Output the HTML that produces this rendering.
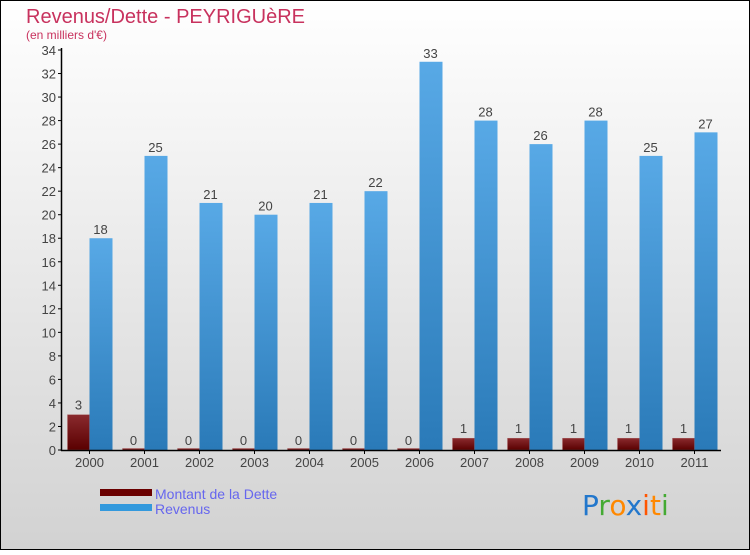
<!DOCTYPE html>
<html><head><meta charset="utf-8"><style>
html,body{margin:0;padding:0}
body{width:750px;height:550px;overflow:hidden;font-family:"Liberation Sans",sans-serif}
</style></head><body>
<svg width="750" height="550" xmlns="http://www.w3.org/2000/svg">
<defs>
<linearGradient id="bg" x1="0" y1="0" x2="0" y2="1"><stop offset="0" stop-color="#ffffff"/><stop offset="1" stop-color="#d2d2d2"/></linearGradient>
<linearGradient id="gr" x1="0" y1="0" x2="0" y2="1"><stop offset="0" stop-color="#58a9e6"/><stop offset="1" stop-color="#2a7ab8"/></linearGradient>
<linearGradient id="gd" x1="0" y1="0" x2="0" y2="1"><stop offset="0" stop-color="#8a2a2e"/><stop offset="1" stop-color="#5a0000"/></linearGradient>
</defs>
<rect x="0.5" y="0.5" width="749" height="549" fill="url(#bg)" stroke="#000"/>
<text x="26" y="23" font-size="20" fill="#c8325e">Revenus/Dette - PEYRIGUèRE</text>
<text x="26" y="39" font-size="12" fill="#c8325e">(en milliers d'€)</text>
<g id="plot"></g>
<g>
<rect x="100" y="489" width="52" height="7" fill="#6a0000"/>
<text x="155" y="499" font-size="14" fill="#6666ee">Montant de la Dette</text>
<rect x="100" y="504" width="52" height="7" fill="#3399dd"/>
<text x="155" y="514" font-size="14" fill="#6666ee">Revenus</text>
</g>
<g font-size="28" font-family="DejaVu Sans, sans-serif">
<text x="582" y="515"><tspan fill="#2277cc">P</tspan><tspan fill="#44aa33">r</tspan><tspan fill="#ff8800">o</tspan><tspan fill="#2277cc">x</tspan><tspan fill="#ff5500">i</tspan><tspan fill="#ff8800">t</tspan><tspan fill="#44aa33">i</tspan></text>
</g>
</svg>
<script>
const years=["2000","2001","2002","2003","2004","2005","2006","2007","2008","2009","2010","2011"];
const dette=[3,0,0,0,0,0,0,1,1,1,1,1];
const revenus=[18,25,21,20,21,22,33,28,26,28,25,27];
const yTicks=[0,2,4,6,8,10,12,14,16,18,20,22,24,26,28,30,32,34];
const NS="http://www.w3.org/2000/svg";
const g=document.getElementById('plot');
const x0=62,band=55,y0=450,yMax=34,plotH=400;
const y=v=>y0-v/yMax*plotH;
function mk(t,a,p){const e=document.createElementNS(NS,t);for(const k in a)e.setAttribute(k,a[k]);(p||g).appendChild(e);return e;}
yTicks.forEach(t=>{
 const l=mk('line',{x1:58,x2:62,y1:y(t),y2:y(t),stroke:'#000'});
 
 
 const tx=mk('text',{x:56,y:y(t)+5,'font-size':13,'text-anchor':'end',fill:'#444'});tx.textContent=t;
 
 
});
years.forEach((yr,i)=>{
 const c=x0+band*i+band/2;
 const d=dette[i],r=revenus[i];
 const hd=Math.max(y0-y(d),1.5);
 const b1=mk('rect',{x:c-22,y:y0-hd,width:22,height:hd,fill:'url(#gd)',stroke:'#aa6666','stroke-width':0.5});
 
 
 const b2=mk('rect',{x:c,y:y(r),width:23,height:y0-y(r),fill:'url(#gr)'});
 
 
 const t1=mk('text',{x:c-11,y:y(d)-5,'font-size':13,'text-anchor':'middle',fill:'#444'});t1.textContent=d;
 
 
 const t2=mk('text',{x:c+11,y:y(r)-4,'font-size':13,'text-anchor':'middle',fill:'#444'});t2.textContent=r;
 
 
 const tk=mk('line',{x1:c,x2:c,y1:450,y2:454,stroke:'#000'});
 
 
 const xl=mk('text',{x:c,y:467,'font-size':13,'text-anchor':'middle',fill:'#444'});xl.textContent=yr;
 
 
});
const ya=mk('line',{x1:61.5,x2:61.5,y1:48,y2:451,stroke:'#000','stroke-width':1.5});


const xa=mk('line',{x1:61,x2:721,y1:450.5,y2:450.5,stroke:'#000','stroke-width':1.5});


</script>
</body></html>
